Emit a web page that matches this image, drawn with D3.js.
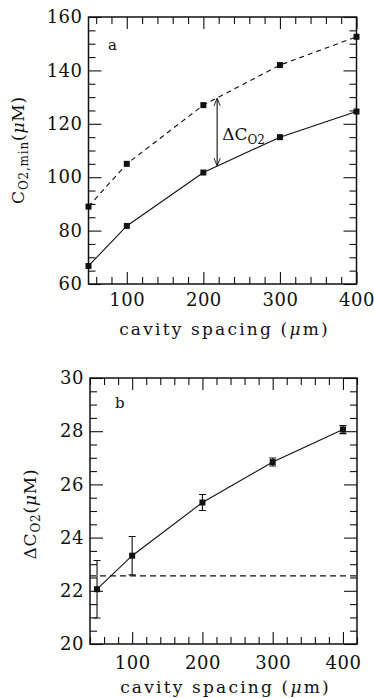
<!DOCTYPE html>
<html>
<head>
<meta charset="utf-8">
<script src="https://cdn.jsdelivr.net/npm/d3@7"></script>
<style>
  body { margin: 0; background: #fff; }
  svg { display: block; }
  .tick text { font-family: "DejaVu Serif", serif; font-size: 18px; fill: #111; letter-spacing: 0.5px; }
  .lbl { font-family: "DejaVu Serif", serif; font-size: 17px; fill: #111; }
</style>
</head>
<body>
<div id="chart"></div>
<script>
// data
var spacing = [50, 100, 200, 300, 400];
var cUpper = [89, 105, 127, 142, 152.6];      // dashed, panel a
var cLower = [66.75, 81.75, 101.75, 115, 124.6]; // solid, panel a
var deltaC = [22.06, 23.32, 25.32, 26.84, 28.06];
var deltaErr = [1.08, 0.72, 0.30, 0.15, 0.15];
var deltaRef = 22.56;
var arrowAt = 218;

var xMajor = [100, 200, 300, 400];
var yTicksA = [60, 80, 100, 120, 140, 160];
var yTicksB = [20, 22, 24, 26, 28, 30];

var W = 374, H = 698;
var svg = d3.select('#chart').append('svg').attr('width', W).attr('height', H);

function panel(cfg) {
    var g = svg.append('g');
    var x = d3.scaleLinear().domain(cfg.xDom).range([cfg.left, cfg.right]);
    var y = d3.scaleLinear().domain(cfg.yDom).range([cfg.bottom, cfg.top]);

    var xMinor = d3.range(Math.ceil(cfg.xDom[0] / 20) * 20, cfg.xDom[1] + 1, 20).filter(function(v){ return v % 100 != 0; });
    var yMinor = d3.range(cfg.yDom[0], cfg.yDom[1] + 1e-9, cfg.yMinorStep).filter(function(v){ return cfg.yMajor.indexOf(+v.toFixed(3)) < 0; });

    function ax(gen, pos, vals, size, labels, pad) {
        var a = gen.tickValues(vals).tickSize(-size).tickPadding(pad || 0);
        if (!labels) a.tickFormat('');
        var s = g.append('g').attr('transform', pos).call(a);
        s.select('.domain').remove();
        s.selectAll('line').attr('stroke', '#111').attr('stroke-width', 1.1);
        return s;
    }
    // bottom / top
    ax(d3.axisBottom(x), 'translate(0,' + cfg.bottom + ')', xMajor, 12, true, cfg.xPad);
    ax(d3.axisBottom(x), 'translate(0,' + cfg.bottom + ')', xMinor, 7, false);
    ax(d3.axisTop(x), 'translate(0,' + cfg.top + ')', xMajor, 12, false);
    ax(d3.axisTop(x), 'translate(0,' + cfg.top + ')', xMinor, 7, false);
    // left / right
    ax(d3.axisLeft(y), 'translate(' + cfg.left + ',0)', cfg.yMajor, 13, true, 6);
    ax(d3.axisLeft(y), 'translate(' + cfg.left + ',0)', yMinor, 7, false);
    ax(d3.axisRight(y), 'translate(' + cfg.right + ',0)', cfg.yMajor, 13, false);
    ax(d3.axisRight(y), 'translate(' + cfg.right + ',0)', yMinor, 7, false);

    g.append('rect')
        .attr('x', cfg.left).attr('y', cfg.top)
        .attr('width', cfg.right - cfg.left).attr('height', cfg.bottom - cfg.top)
        .attr('fill', 'none').attr('stroke', '#111').attr('stroke-width', 1.5);

    var xl = g.append('text').attr('class', 'lbl')
        .attr('x', (cfg.left + cfg.right) / 2 + 2).attr('y', cfg.bottom + cfg.titleGap)
        .attr('text-anchor', 'middle').style('letter-spacing', '2.2px');
    xl.append('tspan').text('cavity spacing (');
    xl.append('tspan').style('font-style', 'italic').text('μ');
    xl.append('tspan').text('m)');

    return { g: g, x: x, y: y };
}

function series(p, xs, ys, dashed) {
    var line = d3.line().x(function(d, i){ return p.x(xs[i]); }).y(function(d){ return p.y(d); });
    p.g.append('path').datum(ys).attr('d', line)
        .attr('fill', 'none').attr('stroke', '#111').attr('stroke-width', 1.1)
        .attr('stroke-dasharray', dashed ? '5,4' : null);
    p.g.selectAll(null).data(ys).enter().append('rect')
        .attr('x', function(d, i){ return p.x(xs[i]) - 3; })
        .attr('y', function(d){ return p.y(d) - 3; })
        .attr('width', 6).attr('height', 6).attr('fill', '#111');
}

function yLabel(p, cx, cy) {
    return p.g.append('text').attr('class', 'lbl')
        .attr('transform', 'translate(' + cx + ',' + cy + ') rotate(-90)')
        .attr('text-anchor', 'middle').style('letter-spacing', '0.8px');
}

// ---- panel a
var pa = panel({ xDom: [50, 400], yDom: [60, 160], left: 88.5, right: 356.5, top: 17, bottom: 284,
                 yMajor: yTicksA, yMinorStep: 5, xPad: 9, titleGap: 51 });
series(pa, spacing, cUpper, true);
series(pa, spacing, cLower, false);

var lowAt = d3.scaleLinear().domain(spacing).range(cLower)(arrowAt);
var upAt = d3.scaleLinear().domain(spacing).range(cUpper)(arrowAt);
svg.append('defs').append('marker').attr('id', 'ah').attr('viewBox', '0 0 10 10')
    .attr('refX', 9).attr('refY', 5).attr('markerWidth', 7).attr('markerHeight', 9)
    .attr('orient', 'auto-start-reverse')
    .append('path').attr('d', 'M0,1 L10,5 L0,9').attr('fill', 'none').attr('stroke', '#111').attr('stroke-width', 1.2);
pa.g.append('line')
    .attr('x1', pa.x(arrowAt)).attr('x2', pa.x(arrowAt))
    .attr('y1', pa.y(upAt) + 1).attr('y2', pa.y(lowAt) - 1)
    .attr('stroke', '#111').attr('stroke-width', 1.1)
    .attr('marker-start', 'url(#ah)').attr('marker-end', 'url(#ah)');
var dl = pa.g.append('text').attr('class', 'lbl').attr('x', pa.x(arrowAt) + 5).attr('y', 140);
dl.append('tspan').text('ΔC');
dl.append('tspan').attr('dy', 4).style('font-size', '12px').text('O2');
pa.g.append('text').attr('class', 'lbl').attr('x', 108).attr('y', 50).style('font-size', '15px').text('a');

var la = yLabel(pa, 24, 150);
la.append('tspan').text('C');
la.append('tspan').attr('dy', 4).style('font-size', '12px').text('O2,min');
la.append('tspan').attr('dy', -4).text('(');
la.append('tspan').style('font-style', 'italic').text('μ');
la.append('tspan').text('M)');

// ---- panel b
var pb = panel({ xDom: [40, 420], yDom: [20, 30], left: 90, right: 357, top: 378, bottom: 644,
                 yMajor: yTicksB, yMinorStep: 0.5, xPad: 12, titleGap: 49 });
pb.g.append('line')
    .attr('x1', pb.x(40)).attr('x2', pb.x(420))
    .attr('y1', pb.y(deltaRef)).attr('y2', pb.y(deltaRef))
    .attr('stroke', '#111').attr('stroke-width', 1.1).attr('stroke-dasharray', '6,4');
pb.g.selectAll(null).data(deltaC).enter().append('path')
    .attr('d', function(d, i) {
        var cx = pb.x(spacing[i]), t = pb.y(d + deltaErr[i]), b = pb.y(d - deltaErr[i]);
        return 'M' + (cx - 3.5) + ',' + t + 'H' + (cx + 3.5) + 'M' + cx + ',' + t + 'V' + b +
               'M' + (cx - 3.5) + ',' + b + 'H' + (cx + 3.5);
    })
    .attr('fill', 'none').attr('stroke', '#111').attr('stroke-width', 1.1);
series(pb, spacing, deltaC, false);
pb.g.append('text').attr('class', 'lbl').attr('x', 115).attr('y', 408).style('font-size', '15px').text('b');

var lb = yLabel(pb, 36, 514);
lb.append('tspan').text('ΔC');
lb.append('tspan').attr('dy', 4).style('font-size', '12px').text('O2');
lb.append('tspan').attr('dy', -4).text('(');
lb.append('tspan').style('font-style', 'italic').text('μ');
lb.append('tspan').text('M)');
</script>
</body>
</html>
